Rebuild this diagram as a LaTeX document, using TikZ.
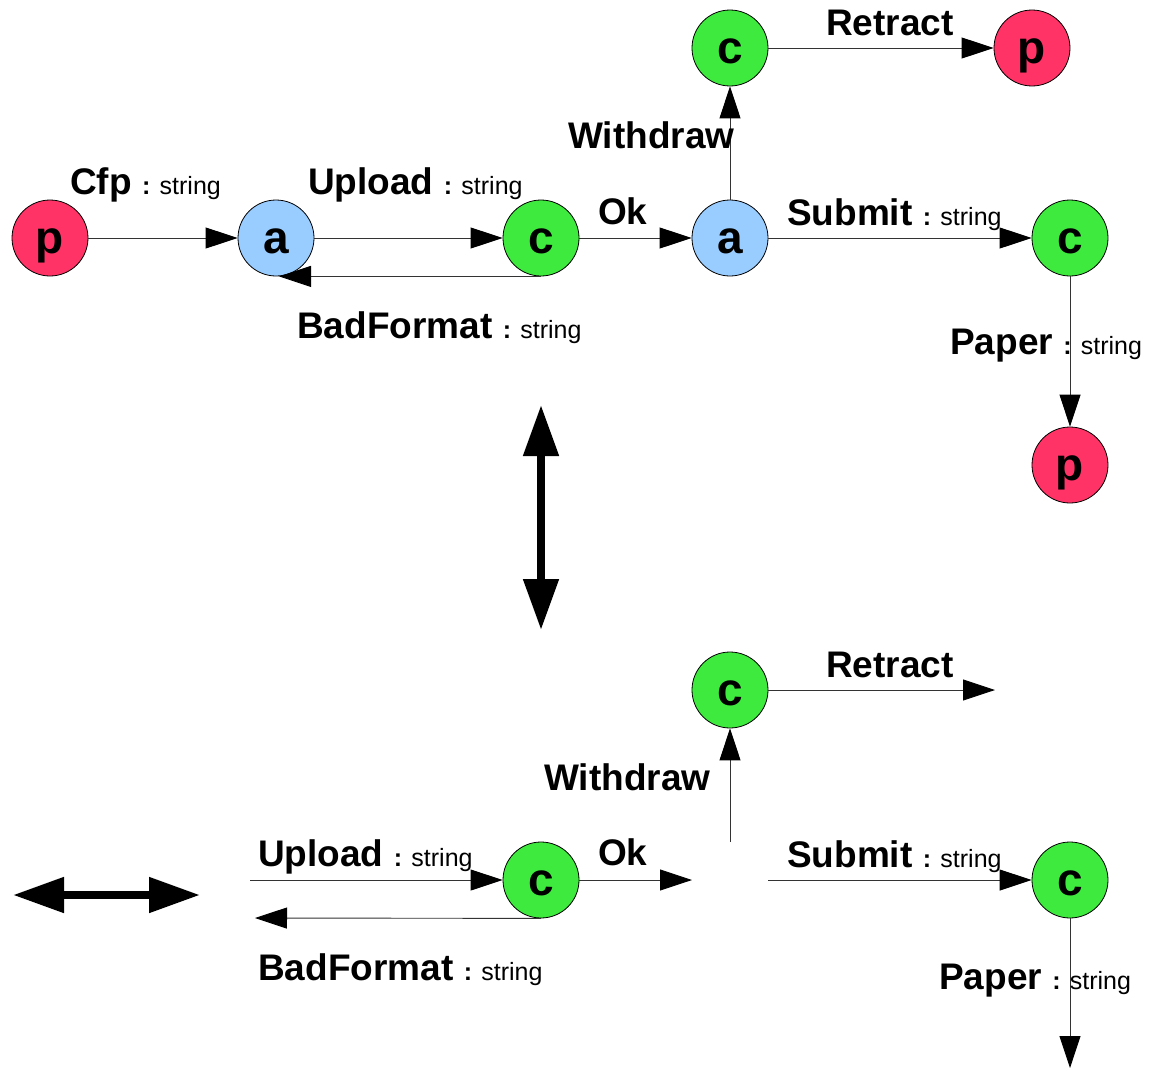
\documentclass[tikz,border=0pt]{standalone}
\usepackage{fontspec}
\setmainfont{Liberation Sans}
\usetikzlibrary{arrows.meta}

\definecolor{pred}{HTML}{FF3366}
\definecolor{ablue}{HTML}{99CCFF}
\definecolor{cgreen}{HTML}{3FEA3F}

\newcommand\lblfont{\fontsize{37}{40}\selectfont\bfseries}
\newcommand\strfont{\fontsize{25}{28}\selectfont\mdseries}
% message name followed by its payload type
\newcommand\typed[2]{{\lblfont #1 }{\strfont\textbf{:} #2}}

\begin{document}
\begin{tikzpicture}[
  x=1pt, y=-1pt,
  state/.style={circle, draw=black, line width=0.8pt, minimum size=76pt,
    inner sep=0pt, text height=30pt, text depth=0pt,
    font=\fontsize{46}{46}\selectfont\bfseries},
  pst/.style={state, fill=pred},
  ast/.style={state, fill=ablue},
  cst/.style={state, fill=cgreen},
  conn/.style={draw=black!80, line width=0.9pt,
    -{Triangle[length=32pt, width=21pt, color=black]}},
  bigarrow/.style={draw=black, line width=8pt,
    {Triangle[length=51pt, width=34pt]}-{Triangle[length=51pt, width=34pt]}},
  lbl/.style={anchor=base west, inner sep=0pt, font=\lblfont},
]
\useasboundingbox (0,0) rectangle (1149,1068);

% ---------- upper protocol ----------
\node[pst] (p1) at (50,238)   {p};
\node[ast] (a1) at (276,238)  {a};
\node[cst] (c1) at (541,238)  {c};
\node[ast] (a2) at (730,238)  {a};
\node[cst] (c2) at (730,48)   {c};
\node[pst] (p2) at (1032,48)  {p};
\node[cst] (c3) at (1070,238) {c};
\node[pst] (p3) at (1070,465) {p};

\draw[conn] (p1) -- (a1);
\draw[conn] (a1) -- (c1);
\draw[conn] (c1.south) -- ([xshift=3pt]a1.south);
\draw[conn] (c1) -- (a2);
\draw[conn] (a2) -- (c2);
\draw[conn] (c2) -- (p2);
\draw[conn] (a2) -- (c3);
\draw[conn] (c3) -- (p3);

\node[lbl] (lcfp) at (70,194)  {\typed{Cfp}{string}};
\node[lbl] (lup)  at (308,194) {\typed{Upload}{string}};
\node[lbl] (lbad) at (297,338) {\typed{BadFormat}{string}};
\node[lbl] (lok)  at (598,224) {Ok};
\node[lbl] (lwd)  at (568,148) {Withdraw};
\node[lbl] (lret) at (826,35)  {Retract};
\node[lbl] (lsub) at (787,225) {\typed{Submit}{string}};
\node[lbl] (lpap) at (950,354) {\typed{Paper}{string}};

% ---------- correspondence arrows ----------
\coordinate (vt) at (541,405);
\coordinate (vb) at (541,630);
\draw[bigarrow] (vt) -- (vb);
\coordinate (hl) at (13,895);
\coordinate (hr) at (200,895);
\draw[bigarrow] (hl) -- (hr);

% ---------- lower protocol (open ends) ----------
\node[cst] (d1) at (730,690)  {c};
\node[cst] (d2) at (541,880)  {c};
\node[cst] (d3) at (1070,880) {c};

\coordinate (retend) at (995,690);
\coordinate (wdstart) at (730,842);
\coordinate (upstart) at (250,880);
\coordinate (badend) at (255,918);
\coordinate (okend) at (692,880);
\coordinate (substart) at (768,880);
\coordinate (papend) at (1070,1068);

\draw[conn] (d1) -- (retend);
\draw[conn] (wdstart) -- (d1);
\draw[conn] (upstart) -- (d2);
\draw[conn] (d2.south) -- (badend);
\draw[conn] (d2) -- (okend);
\draw[conn] (substart) -- (d3);
\draw[conn] (d3) -- (papend);

\node[lbl] (mret) at (826,677) {Retract};
\node[lbl] (mwd)  at (544,790) {Withdraw};
\node[lbl] (mup)  at (258,866) {\typed{Upload}{string}};
\node[lbl] (mok)  at (598,865) {Ok};
\node[lbl] (msub) at (787,867) {\typed{Submit}{string}};
\node[lbl] (mbad) at (258,980) {\typed{BadFormat}{string}};
\node[lbl] (mpap) at (939,989) {\typed{Paper}{string}};
\end{tikzpicture}
\end{document}
